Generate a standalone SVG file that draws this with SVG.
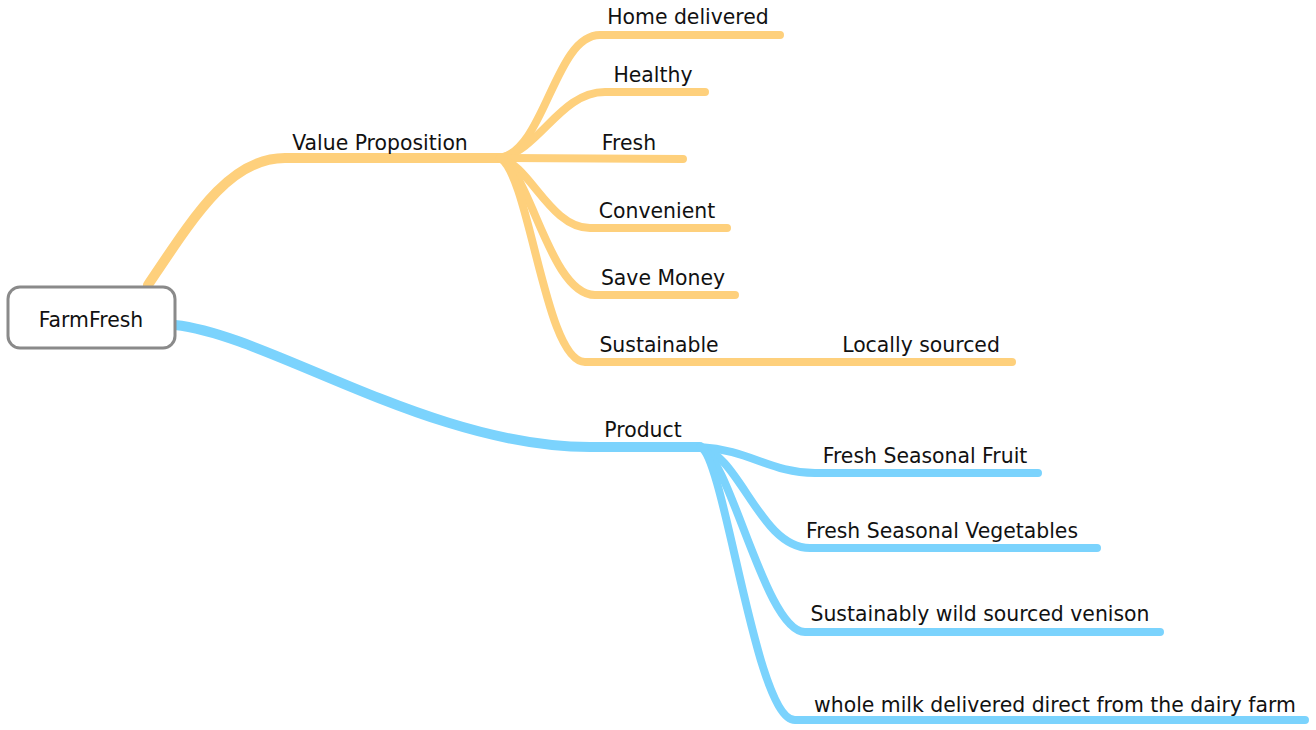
<svg xmlns="http://www.w3.org/2000/svg" width="1316" height="730" viewBox="0 0 1316 730">
<style>
.o{fill:none;stroke:#FED07C;stroke-linecap:round;stroke-linejoin:round}
.b{fill:none;stroke:#7BD3FD;stroke-linecap:round;stroke-linejoin:round}
.m{stroke-width:10}
.c{stroke-width:8}
text{font-family:"DejaVu Sans","Liberation Sans",sans-serif;font-size:20.4px;fill:#111;text-anchor:middle}
</style>
<rect width="1316" height="730" fill="#fff"/>
<g id="connectors">
<path class="o m" d="M148,285 C195,215 230,158 285,158 L500,158"/>
<path class="o c" d="M500,158 C545,150 555,35 600,35 L780,35"/>
<path class="o c" d="M500,158 C540,150 560,92 605,92 L705,92"/>
<path class="o c" d="M500,158 L683,159"/>
<path class="o c" d="M500,158 C530,165 550,228 590,228 L727,228"/>
<path class="o c" d="M500,158 C530,170 550,295 595,295 L735,295"/>
<path class="o c" d="M500,158 C530,175 545,362 585,362 L730,362"/>
<path class="o c" d="M730,362 L1012,362"/>
<path class="b m" d="M175,325 C270,335 430,447 590,447 L700,447"/>
<path class="b c" d="M700,447 C750,450 770,473 815,473 L1038,473"/>
<path class="b c" d="M700,447 C740,455 760,548 810,548 L1097,548"/>
<path class="b c" d="M700,447 C730,455 765,632 805,632 L1160,632"/>
<path class="b c" d="M700,447 C725,455 755,720 795,720 L1305,720"/>
</g>
<g id="farmfresh">
<rect x="8" y="287" width="167" height="61" rx="12" fill="#fff" stroke="#8a8a8a" stroke-width="3"/>
<text x="91" y="327" font-size="23">FarmFresh</text>
</g>
<g id="value-proposition"><text x="380" y="150">Value Proposition</text></g>
<g id="home-delivered"><text x="688" y="24">Home delivered</text></g>
<g id="healthy"><text x="653" y="82">Healthy</text></g>
<g id="fresh"><text x="629" y="150">Fresh</text></g>
<g id="convenient"><text x="657" y="218">Convenient</text></g>
<g id="save-money"><text x="663" y="285">Save Money</text></g>
<g id="sustainable"><text x="659" y="352">Sustainable</text></g>
<g id="locally-sourced"><text x="921" y="352">Locally sourced</text></g>
<g id="product"><text x="643" y="437">Product</text></g>
<g id="fruit"><text x="925" y="463">Fresh Seasonal Fruit</text></g>
<g id="vegetables"><text x="942" y="538">Fresh Seasonal Vegetables</text></g>
<g id="venison"><text x="980" y="621">Sustainably wild sourced venison</text></g>
<g id="milk"><text x="1055" y="712">whole milk delivered direct from the dairy farm</text></g>
</svg>
